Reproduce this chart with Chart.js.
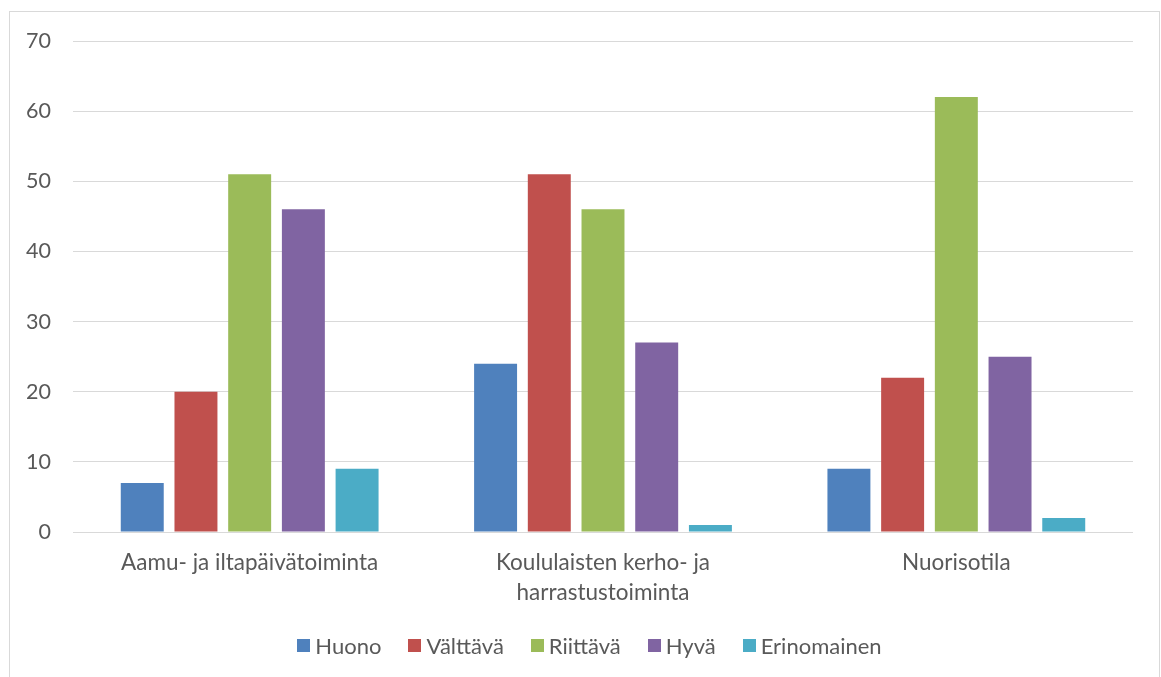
<!DOCTYPE html>
<html>
<head>
<meta charset="utf-8">
<script src="https://cdn.jsdelivr.net/npm/chart.js@4/dist/chart.umd.min.js"></script>
<style>
  html, body { margin: 0; padding: 0; background: #fff; }
  #wrap { position: relative; width: 1161px; height: 677px; overflow: hidden; }
  #frame { position: absolute; left: 9px; top: 11px; width: 1151px; height: 700px; border: 1px solid #D9D9D9; box-sizing: border-box; }
  #c { position: absolute; left: 0; top: 0; }
</style>
</head>
<body>
<div id="wrap">
  <div id="frame"></div>
  <canvas id="c" width="1161" height="677"></canvas>
</div>
<script>
const categories = [
  "Aamu- ja iltapäivätoiminta",
  ["Koululaisten kerho- ja", "harrastustoiminta"],
  "Nuorisotila"
];
const seriesNames = ["Huono", "Välttävä", "Riittävä", "Hyvä", "Erinomainen"];
const huono = [7, 24, 9];
const valttava = [20, 51, 22];
const riittava = [51, 46, 62];
const hyva = [46, 27, 25];
const erinomainen = [9, 1, 2];
const yTicks = [0, 10, 20, 30, 40, 50, 60, 70];
const colors = ["#4F81BD", "#C0504D", "#9BBB59", "#8064A2", "#4BACC6"];

const values = [huono, valttava, riittava, hyva, erinomainen];
const FONT = "Lato, 'Open Sans', sans-serif";
const TXT = "#595959";

// Legend drawn from the chart's own dataset labels/colours
const legendPlugin = {
  id: "excelLegend",
  afterDraw(chart) {
    const ctx = chart.ctx;
    const box = 13, gapText = 5, gapItem = 27, centerX = 589.5, centerY = 645.5;
    ctx.save();
    ctx.font = "22px " + FONT;
    ctx.textBaseline = "middle";
    ctx.textAlign = "left";
    const items = chart.data.datasets.map(d => ({ label: d.label, color: d.backgroundColor, w: ctx.measureText(d.label).width }));
    let total = items.reduce((s, it) => s + box + gapText + it.w, 0) + gapItem * (items.length - 1);
    let x = centerX - total / 2;
    items.forEach(it => {
      ctx.fillStyle = it.color;
      ctx.fillRect(Math.round(x), Math.round(centerY - box / 2), box, box);
      ctx.fillStyle = TXT;
      ctx.fillText(it.label, x + box + gapText, centerY + 1);
      x += box + gapText + it.w + gapItem;
    });
    ctx.restore();
  }
};

new Chart(document.getElementById("c"), {
  type: "bar",
  data: {
    labels: categories,
    datasets: seriesNames.map((n, i) => ({
      label: n,
      data: values[i],
      backgroundColor: colors[i],
      borderWidth: 0,
      categoryPercentage: 0.76,
      barPercentage: 0.8
    }))
  },
  options: {
    responsive: false,
    animation: false,
    layout: { padding: { left: 0, right: 28, top: 41, bottom: 54 } },
    plugins: {
      tooltip: { enabled: false },
      legend: { display: false }
    },
    scales: {
      x: {
        grid: { display: false, drawTicks: false },
        border: { display: false },
        ticks: { color: TXT, font: { family: FONT, size: 22.5, lineHeight: 1.33 }, padding: 16, maxRotation: 0, autoSkip: false },
        afterFit: s => { s.height = 91; }
      },
      y: {
        min: 0, max: 70,
        afterBuildTicks: s => { s.ticks = yTicks.map(v => ({ value: v })); },
        grid: { color: "#D9D9D9", lineWidth: 1, drawTicks: false },
        border: { display: false },
        ticks: { color: TXT, font: { family: FONT, size: 21.5 }, padding: 22 },
        afterFit: s => { s.width = 73; }
      }
    }
  },
  plugins: [legendPlugin]
});
</script>
</body>
</html>
